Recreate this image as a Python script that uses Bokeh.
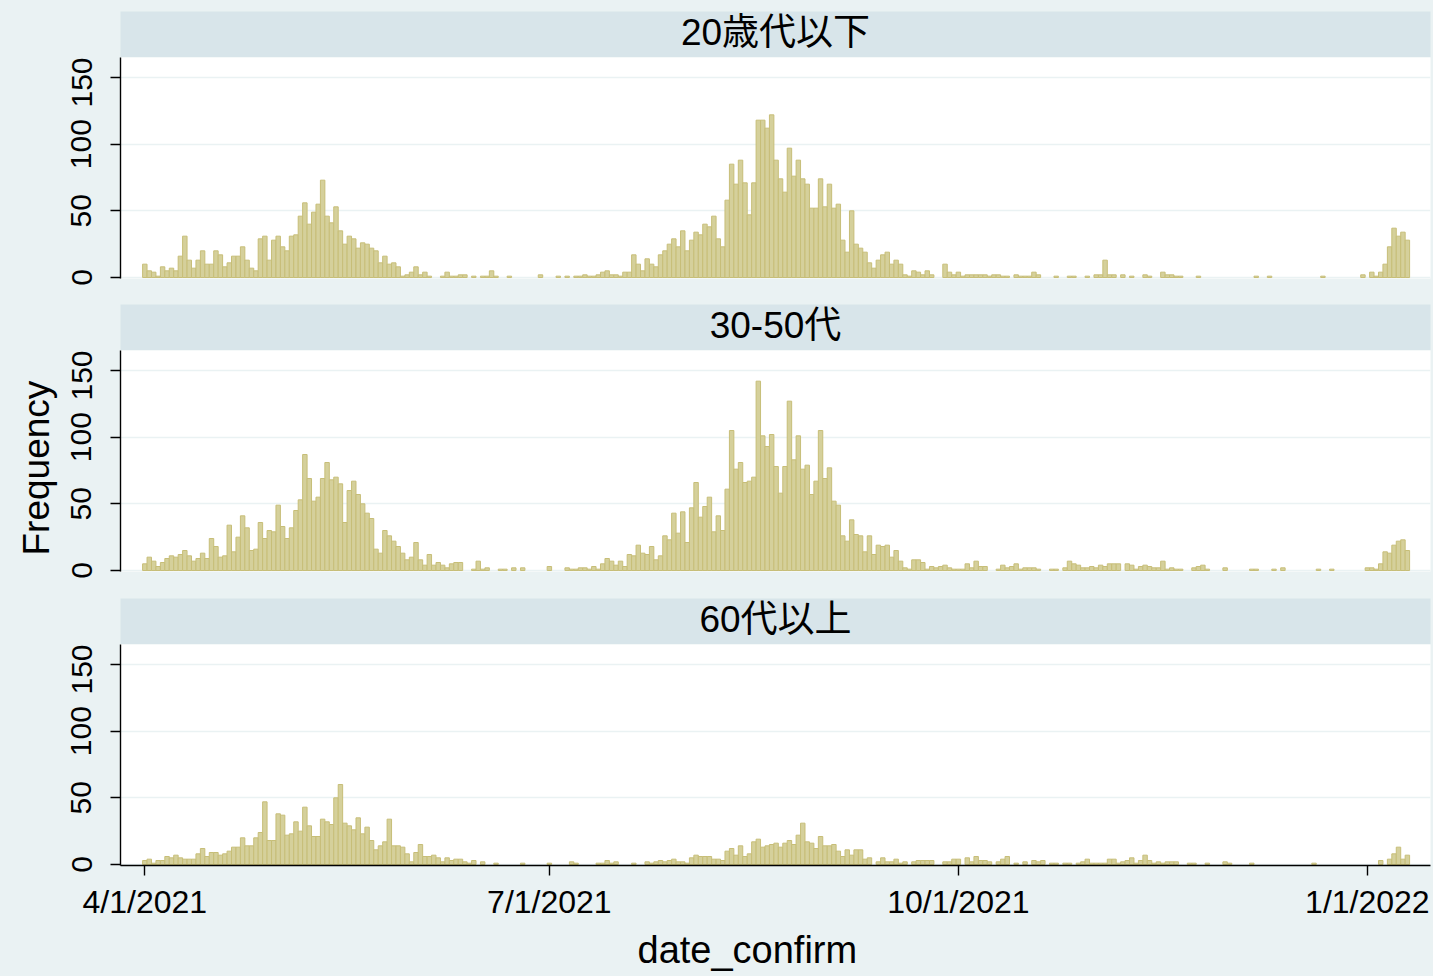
import numpy as np
import pandas as pd
from bokeh.plotting import figure
from bokeh.layouts import column
from bokeh.models import Range1d, FixedTicker, Label, Title, ColumnDataSource
from bokeh.embed import file_html
from bokeh.resources import INLINE

# ---------------- data ----------------
start_date = "2021-04-01"
groups = ["20歳代以下", "30-50代", "60代以上"]

young = [
    10, 5, 4, 1, 8, 5, 7, 5, 16, 31, 13, 7, 13, 20, 10, 10, 20, 17, 8, 11,
    16, 16, 23, 13, 7, 5, 29, 31, 13, 28, 31, 23, 20, 31, 32, 46, 56, 40, 49, 55,
    73, 46, 41, 53, 35, 25, 31, 29, 22, 26, 25, 22, 20, 11, 16, 10, 11, 8, 1, 2,
    4, 8, 2, 4, 1, 0, 0, 1, 4, 1, 1, 2, 2, 0, 1, 0, 1, 1, 5, 1,
    0, 0, 1, 0, 0, 0, 0, 0, 0, 2, 0, 0, 0, 1, 0, 1, 0, 1, 1, 2,
    1, 1, 2, 4, 5, 2, 2, 1, 4, 4, 17, 10, 5, 14, 10, 8, 17, 20, 25, 29,
    23, 35, 20, 28, 34, 32, 40, 38, 46, 29, 23, 58, 85, 70, 88, 71, 47, 71, 118, 118,
    112, 122, 88, 74, 64, 97, 76, 88, 74, 70, 52, 52, 74, 53, 70, 52, 55, 28, 19, 50,
    25, 22, 19, 11, 7, 13, 17, 19, 10, 13, 10, 2, 1, 5, 4, 2, 5, 2, 0, 0,
    10, 4, 2, 4, 1, 2, 2, 2, 2, 2, 1, 2, 2, 1, 1, 0, 2, 1, 1, 1,
    4, 2, 0, 0, 0, 1, 0, 0, 1, 1, 0, 0, 1, 0, 2, 2, 13, 2, 2, 0,
    2, 0, 1, 0, 0, 2, 1, 0, 0, 4, 2, 2, 1, 1, 0, 0, 0, 1, 0, 0,
    0, 0, 0, 0, 0, 0, 0, 0, 0, 0, 1, 0, 0, 1, 0, 0, 0, 0, 0, 0,
    0, 0, 0, 0, 0, 1, 0, 0, 0, 0, 0, 0, 0, 0, 2, 0, 4, 1, 4, 10,
    23, 37, 31, 34, 28,
]

middle = [
    5, 10, 7, 3, 6, 9, 11, 10, 12, 15, 11, 7, 9, 13, 9, 24, 18, 10, 11, 34,
    14, 25, 41, 32, 15, 16, 36, 24, 30, 29, 49, 33, 24, 32, 45, 53, 87, 69, 52, 55,
    69, 81, 68, 70, 65, 36, 60, 67, 57, 50, 43, 39, 16, 13, 30, 26, 22, 18, 13, 8,
    10, 21, 8, 4, 12, 4, 6, 4, 2, 5, 6, 6, 0, 0, 1, 7, 1, 2, 0, 0,
    1, 1, 0, 2, 0, 2, 0, 0, 0, 0, 0, 3, 0, 0, 0, 2, 1, 1, 2, 2,
    1, 3, 1, 5, 9, 7, 4, 7, 3, 12, 11, 19, 13, 12, 18, 8, 11, 26, 23, 43,
    28, 44, 21, 47, 66, 40, 48, 55, 29, 41, 30, 61, 105, 76, 81, 66, 67, 70, 142, 101,
    93, 102, 78, 58, 78, 127, 83, 101, 76, 79, 57, 67, 105, 69, 77, 52, 49, 26, 22, 38,
    27, 26, 14, 26, 12, 19, 18, 19, 10, 15, 7, 2, 1, 8, 8, 6, 1, 3, 2, 3,
    4, 2, 1, 1, 1, 5, 2, 7, 3, 3, 0, 0, 1, 4, 2, 3, 5, 1, 2, 2,
    2, 1, 0, 0, 1, 1, 0, 2, 7, 5, 4, 2, 2, 3, 2, 4, 3, 5, 5, 5,
    0, 5, 4, 1, 3, 4, 3, 2, 2, 7, 1, 2, 1, 1, 0, 0, 2, 3, 4, 1,
    0, 0, 0, 2, 0, 0, 0, 0, 0, 1, 1, 0, 0, 0, 1, 0, 2, 0, 0, 0,
    0, 0, 0, 0, 1, 0, 0, 1, 0, 0, 0, 0, 0, 0, 0, 2, 2, 1, 5, 14,
    13, 19, 22, 23, 15,
]

older = [
    3, 4, 1, 3, 3, 6, 5, 7, 5, 4, 4, 4, 8, 12, 6, 9, 9, 7, 8, 10,
    13, 13, 20, 14, 14, 20, 24, 47, 18, 18, 38, 37, 22, 23, 32, 25, 43, 29, 21, 21,
    34, 32, 30, 50, 60, 31, 29, 26, 35, 23, 28, 18, 11, 14, 17, 34, 14, 14, 13, 8,
    2, 9, 15, 6, 6, 7, 5, 2, 5, 3, 4, 4, 2, 1, 3, 0, 2, 0, 0, 1,
    0, 0, 0, 0, 0, 1, 0, 0, 0, 0, 0, 1, 0, 0, 0, 0, 2, 1, 0, 0,
    0, 0, 1, 1, 3, 1, 2, 0, 0, 0, 1, 0, 0, 2, 1, 2, 3, 2, 3, 4,
    2, 2, 1, 5, 7, 6, 6, 6, 4, 4, 3, 10, 12, 7, 14, 6, 8, 17, 19, 13,
    14, 15, 16, 13, 16, 18, 15, 22, 31, 17, 16, 12, 21, 14, 14, 15, 10, 6, 11, 7,
    11, 11, 4, 5, 0, 2, 5, 2, 2, 4, 1, 2, 0, 2, 3, 3, 3, 3, 0, 0,
    2, 2, 4, 4, 0, 5, 2, 6, 3, 3, 2, 0, 2, 4, 6, 0, 1, 0, 2, 0,
    3, 2, 3, 0, 1, 1, 0, 1, 1, 0, 1, 2, 4, 1, 1, 1, 1, 4, 4, 1,
    2, 3, 5, 1, 3, 7, 3, 1, 2, 1, 2, 2, 2, 0, 0, 1, 1, 0, 0, 1,
    0, 0, 0, 2, 1, 0, 0, 0, 0, 1, 0, 0, 0, 0, 0, 0, 0, 0, 0, 0,
    0, 0, 0, 1, 0, 0, 0, 0, 0, 0, 0, 0, 0, 0, 0, 0, 0, 0, 3, 0,
    4, 8, 13, 4, 7,
]

tick_dates = ["2021-04-01", "2021-07-01", "2021-10-01", "2022-01-01"]
tick_labels = ["4/1/2021", "7/1/2021", "10/1/2021", "1/1/2022"]
y_ticks = [0, 50, 100, 150]
y_title = "Frequency"
x_title = "date_confirm"

# ---------------- style ----------------
BG = "#EAF2F3"
STRIP = "#D8E5EA"
FILL = "#D5D09B"
EDGE = "#C7BE78"
FONT = "Liberation Sans, Noto Sans CJK JP"

W = 1433
LEFT = 120
RIGHT = 3

day0 = pd.Timestamp(start_date)
tick_pos = [(pd.Timestamp(d) - day0).days for d in tick_dates]
x_range = Range1d(-5.47, 289.2)


def header(title, top_border):
    h = figure(width=W, height=46 + top_border, x_range=Range1d(0, 1), y_range=Range1d(0, 1),
               x_axis_type=None, y_axis_type=None, toolbar_location=None,
               output_backend="svg", min_border=0, min_border_left=LEFT,
               min_border_right=RIGHT, min_border_top=top_border, min_border_bottom=0,
               background_fill_color=STRIP, border_fill_color=BG, outline_line_color=None)
    h.add_layout(Label(x=0.5, y=0.55, text=title, text_align="center", text_baseline="middle",
                       text_font=FONT, text_font_size="37px", text_color="black"))
    return h


def panel(values, height, bottom_border, show_x, show_ylabel):
    p = figure(width=W, height=height, x_range=x_range, y_range=Range1d(-0.75, 165),
               toolbar_location=None, output_backend="svg", min_border=0,
               min_border_left=LEFT, min_border_right=RIGHT, min_border_top=0,
               min_border_bottom=bottom_border, background_fill_color="white",
               border_fill_color=BG, outline_line_color=None)
    vals = np.asarray(values)
    days = np.arange(len(vals))
    keep = vals > 0
    src = ColumnDataSource(dict(x=days[keep], top=vals[keep]))
    p.vbar(x="x", top="top", bottom=0, width=1.0, source=src,
           fill_color=FILL, line_color=EDGE, line_width=1)
    p.xgrid.visible = False
    p.ygrid.ticker = FixedTicker(ticks=y_ticks)
    p.ygrid.grid_line_color = BG
    p.ygrid.grid_line_width = 1.6

    ya = p.yaxis[0]
    ya.ticker = FixedTicker(ticks=y_ticks)
    ya.major_label_orientation = "vertical"
    ya.major_label_text_font = FONT
    ya.major_label_text_font_size = "30px"
    ya.major_label_text_color = "black"
    ya.major_label_standoff = 19
    ya.major_tick_in = 0
    ya.major_tick_out = 10
    ya.major_tick_line_color = "black"
    ya.major_tick_line_width = 1.4
    ya.minor_tick_line_color = None
    ya.axis_line_color = "black"
    ya.axis_line_width = 1.4
    if show_ylabel:
        p.add_layout(Title(text=y_title, align="left", offset=16, standoff=24,
                           text_font=FONT, text_font_size="37px",
                           text_font_style="normal", text_color="black"), "left")

    xa = p.xaxis[0]
    if show_x:
        xa.ticker = FixedTicker(ticks=tick_pos)
        xa.major_label_overrides = {t: l for t, l in zip(tick_pos, tick_labels)}
        xa.major_label_text_font = FONT
        xa.major_label_text_font_size = "32px"
        xa.major_label_text_color = "black"
        xa.major_label_standoff = 8
        xa.major_tick_in = 0
        xa.major_tick_out = 10
        xa.major_tick_line_color = "black"
        xa.major_tick_line_width = 1.4
        xa.minor_tick_line_color = None
        xa.axis_line_color = "black"
        xa.axis_line_width = 1.4
        # axis title, placed left of the frame centre as in the original
        p.add_layout(Title(text=x_title, align="left", offset=517, standoff=9,
                           text_font=FONT, text_font_size="38px",
                           text_font_style="normal", text_color="black"), "below")
    else:
        xa.visible = False
    return p


h1 = header(groups[0], 11)
p1 = panel(young, 247, 26, False, False)
h2 = header(groups[1], 0)
p2 = panel(middle, 248, 27, False, True)
h3 = header(groups[2], 0)
p3 = panel(older, 332, 111, True, False)

layout = column(h1, p1, h2, p2, h3, p3, spacing=0)
layout.styles = {"background-color": BG}

open("out.html", "w").write(file_html(layout, INLINE))
